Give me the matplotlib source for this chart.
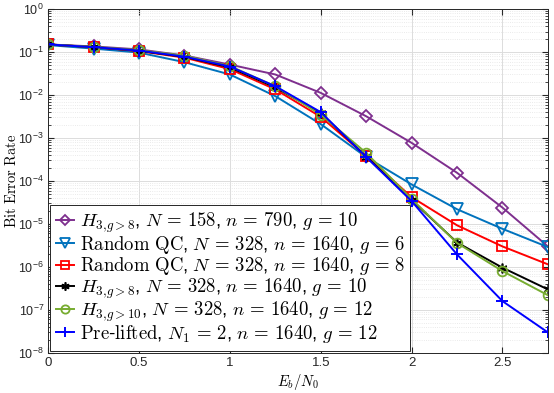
import math
import matplotlib
matplotlib.use("Agg")
from matplotlib import pyplot as plt
from matplotlib.ticker import FuncFormatter, LogLocator, NullFormatter

plt.rcParams['mathtext.fontset'] = 'cm'
plt.rcParams['font.family'] = 'Liberation Sans'

# Eb/N0 points
ebn0 = [0, 0.25, 0.5, 0.75, 1.0, 1.25, 1.5, 1.75, 2.0, 2.25, 2.5, 2.75]

# BER curves
ber_h3_158 = [0.15, 0.135, 0.115, 0.083, 0.051, 0.030, 0.0112, 0.0032, 7.7e-4, 1.55e-4, 2.4e-5, 3.0e-6]
ber_rand_g6 = [0.145, 0.12, 0.097, 0.058, 0.030, 0.0094, 0.0021, 3.6e-4, 8.3e-5, 2.2e-5, 7.7e-6, 2.9e-6]
ber_rand_g8 = [0.15, 0.13, 0.105, 0.074, 0.040, 0.0135, 0.0031, 3.8e-4, 4.2e-5, 9.3e-6, 3.0e-6, 1.15e-6]
ber_h3_328 = [0.15, 0.13, 0.107, 0.077, 0.044, 0.015, 0.0038, 3.7e-4, 3.6e-5, 3.7e-6, 9.6e-7, 3.0e-7]
ber_h3g10 = [0.15, 0.132, 0.11, 0.082, 0.047, 0.016, 0.0035, 4.5e-4, 3.8e-5, 3.6e-6, 8.0e-7, 2.2e-7]
ber_prelift = [0.15, 0.13, 0.108, 0.078, 0.046, 0.016, 0.0040, 3.6e-4, 3.4e-5, 1.95e-6, 1.6e-7, 3.0e-8]

labels = [
    r"$H_{3,\!g{>}8}$, $N\,=\,158$, $n\,=\,790$, $g\,=\,10$",
    r"$\mathrm{Random\ QC}$, $N\,=\,328$, $n\,=\,1640$, $g\,=\,6$",
    r"$\mathrm{Random\ QC}$, $N\,=\,328$, $n\,=\,1640$, $g\,=\,8$",
    r"$H_{3,\!g{>}8}$, $N\,=\,328$, $n\,=\,1640$, $g\,=\,10$",
    r"$H_{3,\!g{>}10}$, $N\,=\,328$, $n\,=\,1640$, $g\,=\,12$",
    r"$\mathrm{Pre}$-$\mathrm{lifted}$, $N_1\,=\,2$, $n\,=\,1640$, $g\,=\,12$",
]

fig = plt.figure(figsize=(5.54, 3.93), dpi=100)
ax = fig.add_axes([0.087, 0.102, 0.902, 0.875])

ax.semilogy(ebn0, ber_h3_158, '-D', color=(0.494, 0.184, 0.556), mfc='none', ms=6.5, mew=1.3, lw=1.4, label=labels[0])
ax.semilogy(ebn0, ber_rand_g6, '-v', color=(0.0, 0.447, 0.741), mfc='none', ms=8, mew=1.3, lw=1.4, label=labels[1])
ax.semilogy(ebn0, ber_rand_g8, '-s', color=(1.0, 0.0, 0.0), mfc='none', ms=6.5, mew=1.3, lw=1.4, label=labels[2])
ax.semilogy(ebn0, ber_h3_328, '-', marker=(6, 2, 0), color='black', ms=7, mew=1.2, lw=1.4, label=labels[3])
ax.semilogy(ebn0, ber_h3g10, '-o', color=(0.466, 0.674, 0.188), mfc='none', ms=7, mew=1.3, lw=1.4, label=labels[4])
ax.semilogy(ebn0, ber_prelift, '-+', color=(0.0, 0.0, 1.0), ms=8, mew=1.4, lw=1.4, label=labels[5])

ax.set_xlim(0, 2.75)
ax.set_ylim(1e-8, 1)
ax.set_xticks([0, 0.5, 1, 1.5, 2, 2.5])
ax.set_xticklabels(['0', '0.5', '1', '1.5', '2', '2.5'])
ax.yaxis.set_major_locator(LogLocator(base=10, numticks=20))
ax.yaxis.set_minor_locator(LogLocator(base=10, subs=range(2, 10), numticks=20))
ax.yaxis.set_minor_formatter(NullFormatter())
ax.yaxis.set_major_formatter(FuncFormatter(lambda v, p: r'$\mathdefault{10^{%d}}$' % round(math.log10(v))))

ax.tick_params(which='both', direction='in', top=True, right=True, colors='#262626', pad=3)
ax.tick_params(axis='x', labelsize=9.5)
ax.tick_params(axis='y', labelsize=9)
ax.tick_params(which='major', length=4)
ax.tick_params(which='minor', length=2)

ax.grid(True, which='major', color='#dcdcdc', lw=0.7)
ax.grid(True, which='minor', axis='y', color='#e3e3e3', lw=0.6, ls=':')
ax.set_axisbelow(True)
for s in ax.spines.values():
    s.set_color('#262626')
    s.set_linewidth(0.7)

ax.set_xlabel(r"$E_b/N_0$", fontsize=10.5, labelpad=2)
ax.set_ylabel(r"$\mathrm{Bit\ Error\ Rate}$", fontsize=10.5)
ax.yaxis.set_label_coords(-0.058, 0.5)

leg = ax.legend(loc='lower left', fontsize=13.5, handlelength=0.95, handletextpad=0.3,
                borderaxespad=0.12, borderpad=0.3, labelspacing=-0.05, fancybox=False,
                edgecolor='#262626', framealpha=1, markerscale=0.85)
leg.get_frame().set_linewidth(0.7)

fig.savefig("out.png", dpi=100)
